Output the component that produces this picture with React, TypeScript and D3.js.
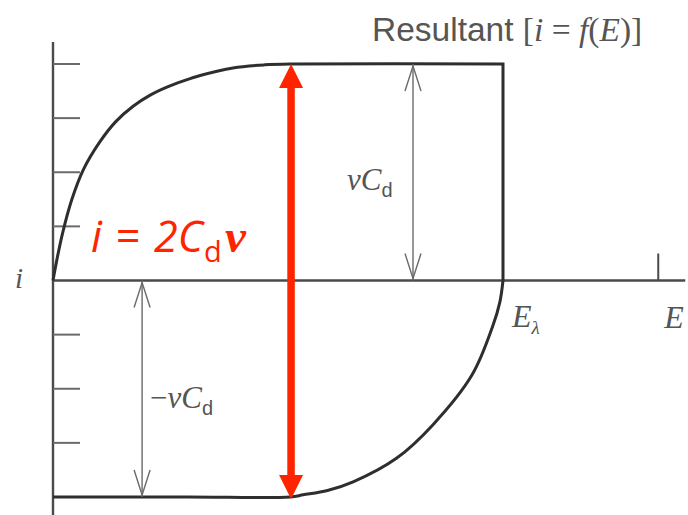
import React from "react";
import * as d3 from "d3";

// Capacitive (double-layer) cyclic voltammogram: i = f(E), normalised so vC_d = 1
const forwardE = [0, 0.009, 0.022, 0.042, 0.067, 0.104, 0.14, 0.178, 0.215, 0.253, 0.29, 0.327, 0.4, 0.47, 0.533, 1.0];
const forwardI = [0, 0.1, 0.225, 0.375, 0.51, 0.64, 0.735, 0.805, 0.855, 0.893, 0.922, 0.947, 0.982, 0.996, 1.0, 1.0];

const reverseE = [0, 0.3, 0.527, 0.556, 0.61, 0.667, 0.764, 0.844, 0.931, 0.978, 0.993, 1.0];
const reverseI = [-1.0, -1.0, -1.0, -0.99, -0.97, -0.93, -0.82, -0.667, -0.437, -0.206, -0.1, 0];

const iTicks = [1, 0.75, 0.5, 0.25, -0.25, -0.5, -0.75];

const E_LAMBDA = 1.0;
const E_MARK = 1.345;
const E_AXIS_END = 1.405;
const CHARGE_ARROW_E = 0.8;
const DISCHARGE_ARROW_E = 0.198;
const TOTAL_ARROW_E = 0.529;

const W = 688;
const H = 515;

const INK = "#2e2e2e";
const AXIS = "#4a4a4a";
const THIN = "#6a6a6a";
const LABEL = "#555";
const RED = "#ff2400";

export default function App() {
  const x = d3.scaleLinear().domain([0, 1]).range([53, 503]);
  const y = d3.scaleLinear().domain([-1, 1]).range([497, 64]);

  const fwd = forwardE.map((e, k) => [e, forwardI[k]] as [number, number]);
  const rev = reverseE.map((e, k) => [e, reverseI[k]] as [number, number]);

  const line = d3
    .line<[number, number]>()
    .x((d) => x(d[0]))
    .y((d) => y(d[1]))
    .curve(d3.curveCatmullRom.alpha(0.5));

  // forward sweep plus the vertical drop at the switching potential
  const fwdPath = `${line(fwd)} L${x(E_LAMBDA)},${y(0)}`;
  const revPath = line(rev) as string;

  const thinArrow = (e: number, i0: number, i1: number) => {
    const cx = x(e);
    const yTop = y(i0);
    const yBot = y(i1);
    const hl = 27;
    const hw = 8;
    return (
      <g stroke={THIN} strokeWidth={1.4} fill="none">
        <line x1={cx} x2={cx} y1={yTop} y2={yBot} />
        <path d={`M${cx - hw},${yTop + hl} L${cx},${yTop + 2} L${cx + hw},${yTop + hl}`} />
        <path d={`M${cx - hw},${yBot - hl} L${cx},${yBot - 2} L${cx + hw},${yBot - hl}`} />
      </g>
    );
  };

  const rx = x(TOTAL_ARROW_E);
  const rTop = y(1);
  const rBot = y(-1) + 2;
  const headL = 24;
  const headW = 12;

  const serif = "'Liberation Serif', 'DejaVu Serif', serif";
  const sans = "'Liberation Sans', Arial, sans-serif";
  const redFont = "'Open Sans', 'Noto Sans', sans-serif";

  return (
    <svg
      width={W}
      height={H}
      viewBox={`0 0 ${W} ${H}`}
      style={{ position: "absolute", left: 0, top: 0, background: "#fff" }}
    >
      <rect x={0} y={0} width={W} height={H} fill="#fff" />

      {/* axes */}
      <g stroke={AXIS} strokeWidth={2.4} fill="none">
        <line x1={x(0)} x2={x(0)} y1={42} y2={H} />
        <line x1={x(0)} x2={x(E_AXIS_END)} y1={y(0)} y2={y(0)} />
        <line x1={x(E_MARK)} x2={x(E_MARK)} y1={y(0)} y2={y(0) - 27} strokeWidth={2} />
      </g>
      <g stroke={THIN} strokeWidth={2}>
        {iTicks.map((t) => (
          <line key={t} x1={x(0)} x2={x(0) + 27} y1={y(t)} y2={y(t)} />
        ))}
      </g>

      {/* voltammogram */}
      <g stroke={INK} strokeWidth={3} fill="none" strokeLinejoin="miter">
        <path d={fwdPath} />
        <path d={revPath} />
      </g>

      {/* vC_d annotations */}
      {thinArrow(CHARGE_ARROW_E, 1, 0)}
      {thinArrow(DISCHARGE_ARROW_E, 0, -1)}

      <text x={347} y={190} fill={LABEL} fontFamily={serif} fontStyle="italic" fontSize={31}>
        vC
        <tspan fontFamily={sans} fontStyle="normal" fontSize={20} dy={7}>d</tspan>
      </text>
      <text x={150} y={408} fill={LABEL} fontFamily={serif} fontStyle="italic" fontSize={31}>
        <tspan fontStyle="normal">−</tspan>vC
        <tspan fontFamily={sans} fontStyle="normal" fontSize={20} dy={7}>d</tspan>
      </text>

      {/* axis labels */}
      <text x={15} y={288} fill={LABEL} fontFamily={serif} fontStyle="italic" fontSize={29}>i</text>
      <text x={x(E_LAMBDA) + 9} y={327} fill={LABEL} fontFamily={serif} fontStyle="italic" fontSize={32}>
        E<tspan fontSize={19} dy={7}>λ</tspan>
      </text>
      <text x={x(E_MARK) + 6} y={328} fill={LABEL} fontFamily={serif} fontStyle="italic" fontSize={32}>E</text>

      <text x={372} y={41} fill={LABEL} fontSize={33.5}>
        <tspan fontFamily={sans}>Resultant </tspan>
        <tspan fontFamily={serif}>[</tspan>
        <tspan fontFamily={serif} fontStyle="italic">i</tspan>
        <tspan fontFamily={serif}> = </tspan>
        <tspan fontFamily={serif} fontStyle="italic">f</tspan>
        <tspan fontFamily={serif}>(</tspan>
        <tspan fontFamily={serif} fontStyle="italic">E</tspan>
        <tspan fontFamily={serif}>)]</tspan>
      </text>

      {/* total current span */}
      <g fill={RED}>
        <line x1={rx} x2={rx} y1={rTop + headL - 2} y2={rBot - headL + 2} stroke={RED} strokeWidth={7.5} />
        <path d={`M${rx},${rTop} L${rx - headW},${rTop + headL} L${rx + headW},${rTop + headL} Z`} />
        <path d={`M${rx},${rBot} L${rx - headW},${rBot - headL} L${rx + headW},${rBot - headL} Z`} />
      </g>

      <text y={252} fill={RED} fontFamily={redFont} fontStyle="italic" fontSize={43}>
        <tspan x={91}>i</tspan>
        <tspan x={115}>=</tspan>
        <tspan x={154}>2C</tspan>
        <tspan x={204} fontStyle="normal" fontSize={29} dy={10}>d</tspan>
        <tspan x={225} fontFamily={serif} fontWeight="bold" fontStyle="italic" fontSize={47} dy={-10}>ν</tspan>
      </text>
    </svg>
  );
}
